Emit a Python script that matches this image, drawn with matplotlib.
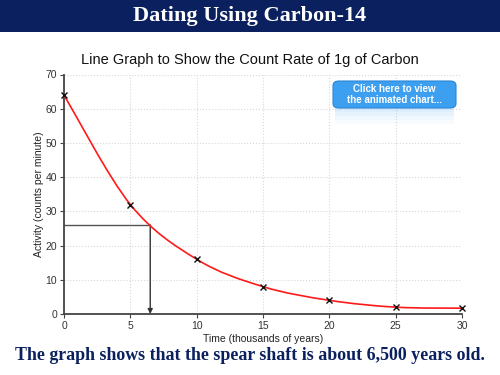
import numpy as np
import matplotlib
matplotlib.use('Agg')
import matplotlib.pyplot as plt
from matplotlib.path import Path
from matplotlib.patches import PathPatch, FancyBboxPatch, Rectangle

# --- data ---
time_k = [0, 5, 10, 15, 20, 25, 30]
activity = [64, 32, 16, 8, 4, 2, 1.7]
read_activity = 26
read_time = 6.5
x_ticks = [0, 5, 10, 15, 20, 25, 30]
y_ticks = [0, 10, 20, 30, 40, 50, 60, 70]

NAVY = "#0b215f"
RED = "#ff1a1a"
SERIF = "Liberation Serif"
SANS = "Liberation Sans"

fig = plt.figure(figsize=(5, 3.75), dpi=100)
fig.patch.set_facecolor("white")

# header band
fig.add_artist(Rectangle((0, 1 - 32 / 375), 1, 32 / 375, transform=fig.transFigure,
                         facecolor=NAVY, edgecolor="none"))
fig.text(0.5, 1 - 16 / 375, "Dating Using Carbon-14", ha="center", va="center",
         color="white", fontsize=16, fontweight="bold", family=SERIF)

fig.text(0.5, 1 - 60 / 375, "Line Graph to Show the Count Rate of 1g of Carbon",
         ha="center", va="center", fontsize=10.5, family=SANS, color="#111111")

ax = fig.add_axes([64 / 500, 1 - 314 / 375, 398 / 500, 239.5 / 375])
ax.set_xlim(0, 30)
ax.set_ylim(0, 70)
ax.set_xticks(x_ticks)
ax.set_yticks(y_ticks)
ax.grid(True, linestyle=":", color="#d8d8d8", linewidth=0.8)
ax.set_axisbelow(True)
for s in ["top", "right"]:
    ax.spines[s].set_visible(False)
for s in ["left", "bottom"]:
    ax.spines[s].set_color("#444444")
    ax.spines[s].set_linewidth(1.3)
ax.tick_params(labelsize=7.5, length=3, width=0.8, color="#444444", labelcolor="#333333", pad=2)
for lab in ax.get_xticklabels() + ax.get_yticklabels():
    lab.set_family(SANS)
ax.set_xlabel("Time (thousands of years)", fontsize=7.5, family=SANS, labelpad=2, color="#222222")
ax.set_ylabel("Activity (counts per minute)", fontsize=7.5, family=SANS, labelpad=1, color="#222222")

# smooth curve through the points (catmull-rom -> bezier)
pts = np.column_stack([time_k, activity]).astype(float)
verts = [tuple(pts[0])]
codes = [Path.MOVETO]
for i in range(len(pts) - 1):
    p0 = pts[i - 1] if i > 0 else pts[i]
    p1, p2 = pts[i], pts[i + 1]
    p3 = pts[i + 2] if i + 2 < len(pts) else pts[i + 1]
    c1 = p1 + (p2 - p0) / 6.0
    c2 = p2 - (p3 - p1) / 6.0
    verts += [tuple(c1), tuple(c2), tuple(p2)]
    codes += [Path.CURVE4] * 3
ax.add_patch(PathPatch(Path(verts, codes), facecolor="none", edgecolor=RED, lw=1.2, zorder=3))
ax.plot(time_k, activity, linestyle="none", marker="x", color="#111111",
        markersize=4, mew=1.0, zorder=4, clip_on=False)

# reading lines
ax.plot([0, read_time], [read_activity, read_activity], color="#555555", lw=1.0, zorder=2)
ax.annotate("", xy=(read_time, 0), xytext=(read_time, read_activity),
            arrowprops=dict(arrowstyle="-|>", color="#333333", lw=1.0,
                            mutation_scale=7, shrinkA=0, shrinkB=0), zorder=2)

# button with faint reflection
bx, by, bw, bh = 333 / 500, 1 - 108 / 375, 123 / 500, 27 / 375
for k, a in enumerate([0.35, 0.25, 0.15, 0.07]):
    fig.add_artist(Rectangle((bx + 0.004, by - (k + 1) * 4 / 375), bw - 0.008, 4 / 375,
                             transform=fig.transFigure, facecolor="#9fd0f8",
                             edgecolor="none", alpha=a))
fig.add_artist(FancyBboxPatch((bx, by), bw, bh, transform=fig.transFigure,
                              boxstyle="round,pad=0,rounding_size=0.012",
                              facecolor="#3d9ff0", edgecolor="#2a86d6", lw=0.8))
fig.text(bx + bw / 2, by + bh / 2, "Click here to view\nthe animated chart...", ha="center",
         va="center", color="white", fontsize=7, fontweight="bold", family=SANS, linespacing=1.15)

fig.text(0.5, 1 - 355 / 375, "The graph shows that the spear shaft is about 6,500 years old.",
         ha="center", va="center", color=NAVY, fontsize=12.9, fontweight="bold", family=SERIF)

fig.savefig("out.png", dpi=100, facecolor="white")
